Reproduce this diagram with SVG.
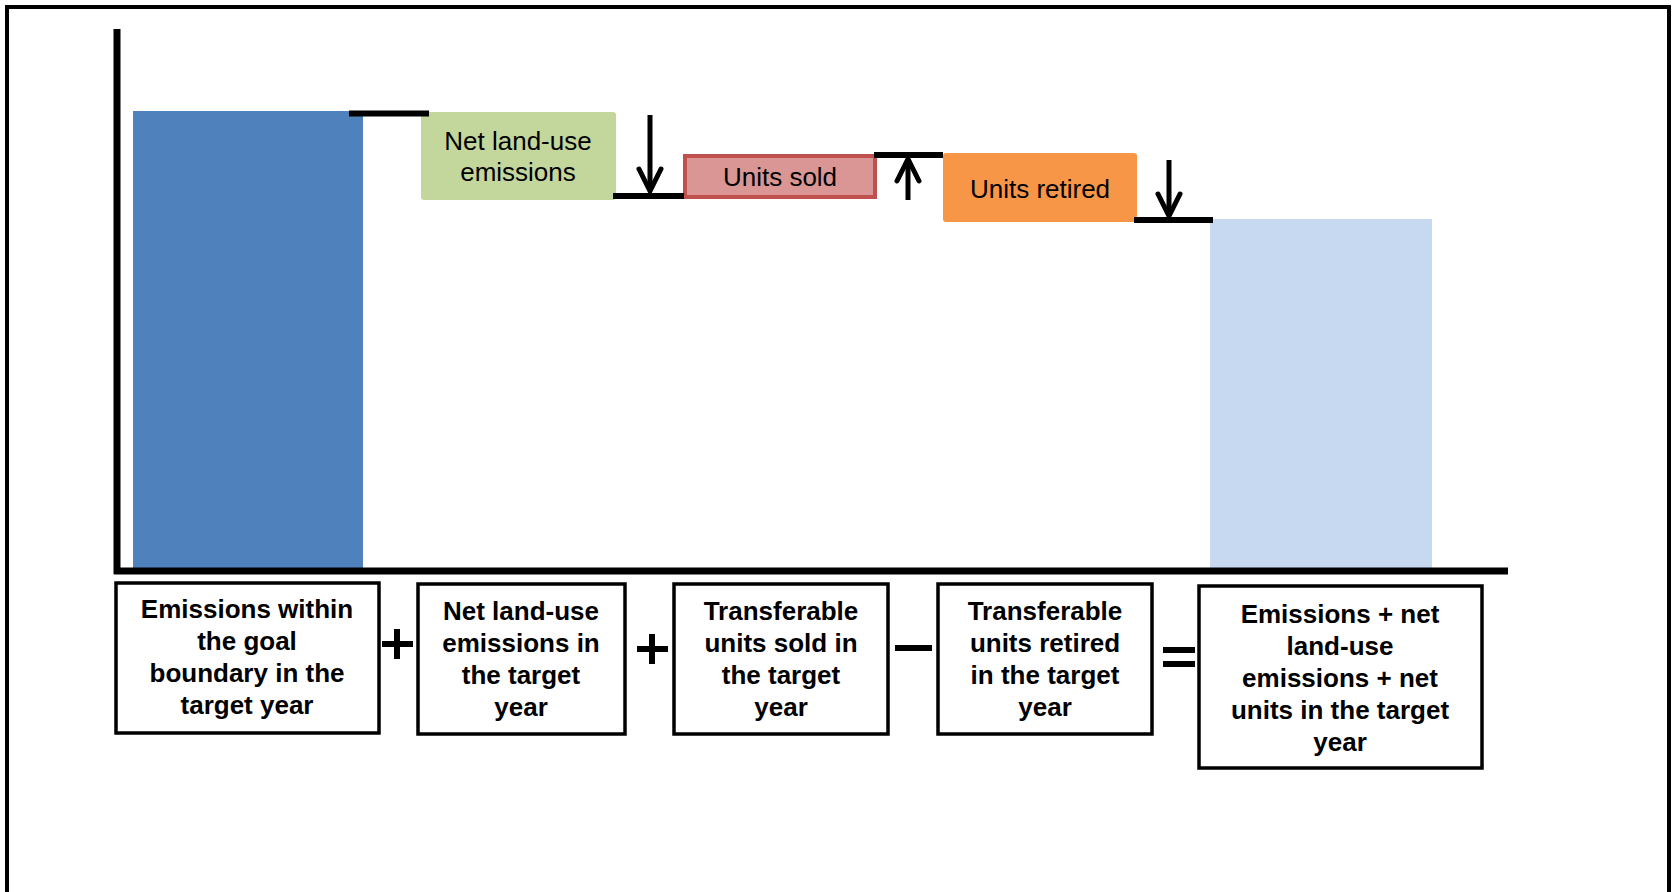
<svg xmlns="http://www.w3.org/2000/svg" width="1673" height="892" viewBox="0 0 1673 892">
<defs>
<style>
.lbl{font-family:"Liberation Sans",Arial,sans-serif;font-size:26px;fill:#000;text-anchor:middle}
.blbl{font-family:"Liberation Sans",Arial,sans-serif;font-size:26px;font-weight:bold;fill:#000;text-anchor:middle}
.box{fill:#fff;stroke:#000;stroke-width:3.5}
.step{stroke:#000;stroke-width:6;fill:none}
.arr{stroke:#000;stroke-width:5;fill:none;marker-end:url(#chev)}
.op{stroke:#000;stroke-width:6;fill:none}
</style>
<marker id="chev" markerUnits="userSpaceOnUse" viewBox="-26 -16 30 32" markerWidth="30" markerHeight="32" refX="0" refY="0" orient="auto">
<path d="M-22,-11 L0,0 L-22,11" fill="none" stroke="#000" stroke-width="5" stroke-linecap="round"/>
</marker>
</defs>
<rect x="0" y="0" width="1673" height="892" fill="#fff"/>
<rect id="frame" x="7" y="7" width="1662" height="910" fill="none" stroke="#000" stroke-width="4"/>
<g id="bar-emissions"><rect x="133" y="111" width="230" height="457" fill="#4F81BD"/></g>
<g id="bar-result"><rect x="1210" y="219" width="222" height="349" fill="#C6D9F1"/></g>
<g id="axes">
<line x1="117" y1="29" x2="117" y2="574" stroke="#000" stroke-width="7"/>
<line x1="114" y1="571" x2="1508" y2="571" stroke="#000" stroke-width="7"/>
</g>
<g id="node-landuse">
<rect x="421" y="112" width="195" height="88" rx="3" fill="#C3D69B"/>
<text class="lbl" x="518" y="150">Net land-use</text>
<text class="lbl" x="518" y="181">emissions</text>
</g>
<g id="node-sold">
<rect x="685" y="156" width="190" height="41" fill="#D99694" stroke="#C0504D" stroke-width="4"/>
<text class="lbl" x="780" y="186">Units sold</text>
</g>
<g id="node-retired">
<rect x="943" y="153" width="194" height="69" rx="3" fill="#F79646"/>
<text class="lbl" x="1040" y="198">Units retired</text>
</g>
<g id="connectors">
<line class="step" x1="349" y1="113.5" x2="429" y2="113.5"/>
<line class="step" x1="613" y1="196" x2="684" y2="196"/>
<line class="step" x1="874" y1="155" x2="943" y2="155"/>
<line class="step" x1="1134" y1="220" x2="1213" y2="220"/>
<line class="arr" x1="650" y1="115" x2="650" y2="191"/>
<line class="arr" x1="908" y1="200" x2="908" y2="159"/>
<line class="arr" x1="1169" y1="160" x2="1169" y2="216"/>
</g>
<g id="eq1">
<rect class="box" x="116" y="583" width="263" height="150"/>
<text class="blbl" x="247" y="618">Emissions within</text>
<text class="blbl" x="247" y="650">the goal</text>
<text class="blbl" x="247" y="682">boundary in the</text>
<text class="blbl" x="247" y="714">target year</text>
</g>
<g id="op1"><path class="op" d="M382,644 H413 M397,629 V659"/></g>
<g id="eq2">
<rect class="box" x="418" y="584" width="207" height="150"/>
<text class="blbl" x="521" y="620">Net land-use</text>
<text class="blbl" x="521" y="652">emissions in</text>
<text class="blbl" x="521" y="684">the target</text>
<text class="blbl" x="521" y="716">year</text>
</g>
<g id="op2"><path class="op" d="M637,649 H668 M652,634 V664"/></g>
<g id="eq3">
<rect class="box" x="674" y="584" width="214" height="150"/>
<text class="blbl" x="781" y="620">Transferable</text>
<text class="blbl" x="781" y="652">units sold in</text>
<text class="blbl" x="781" y="684">the target</text>
<text class="blbl" x="781" y="716">year</text>
</g>
<g id="op3"><path class="op" d="M895,648 H932"/></g>
<g id="eq4">
<rect class="box" x="938" y="584" width="214" height="150"/>
<text class="blbl" x="1045" y="620">Transferable</text>
<text class="blbl" x="1045" y="652">units retired</text>
<text class="blbl" x="1045" y="684">in the target</text>
<text class="blbl" x="1045" y="716">year</text>
</g>
<g id="op4"><path class="op" d="M1163,650 H1195 M1163,664 H1195"/></g>
<g id="eq5">
<rect class="box" x="1199" y="586" width="283" height="182"/>
<text class="blbl" x="1340" y="623">Emissions + net</text>
<text class="blbl" x="1340" y="655">land-use</text>
<text class="blbl" x="1340" y="687">emissions + net</text>
<text class="blbl" x="1340" y="719">units in the target</text>
<text class="blbl" x="1340" y="751">year</text>
</g>
</svg>
